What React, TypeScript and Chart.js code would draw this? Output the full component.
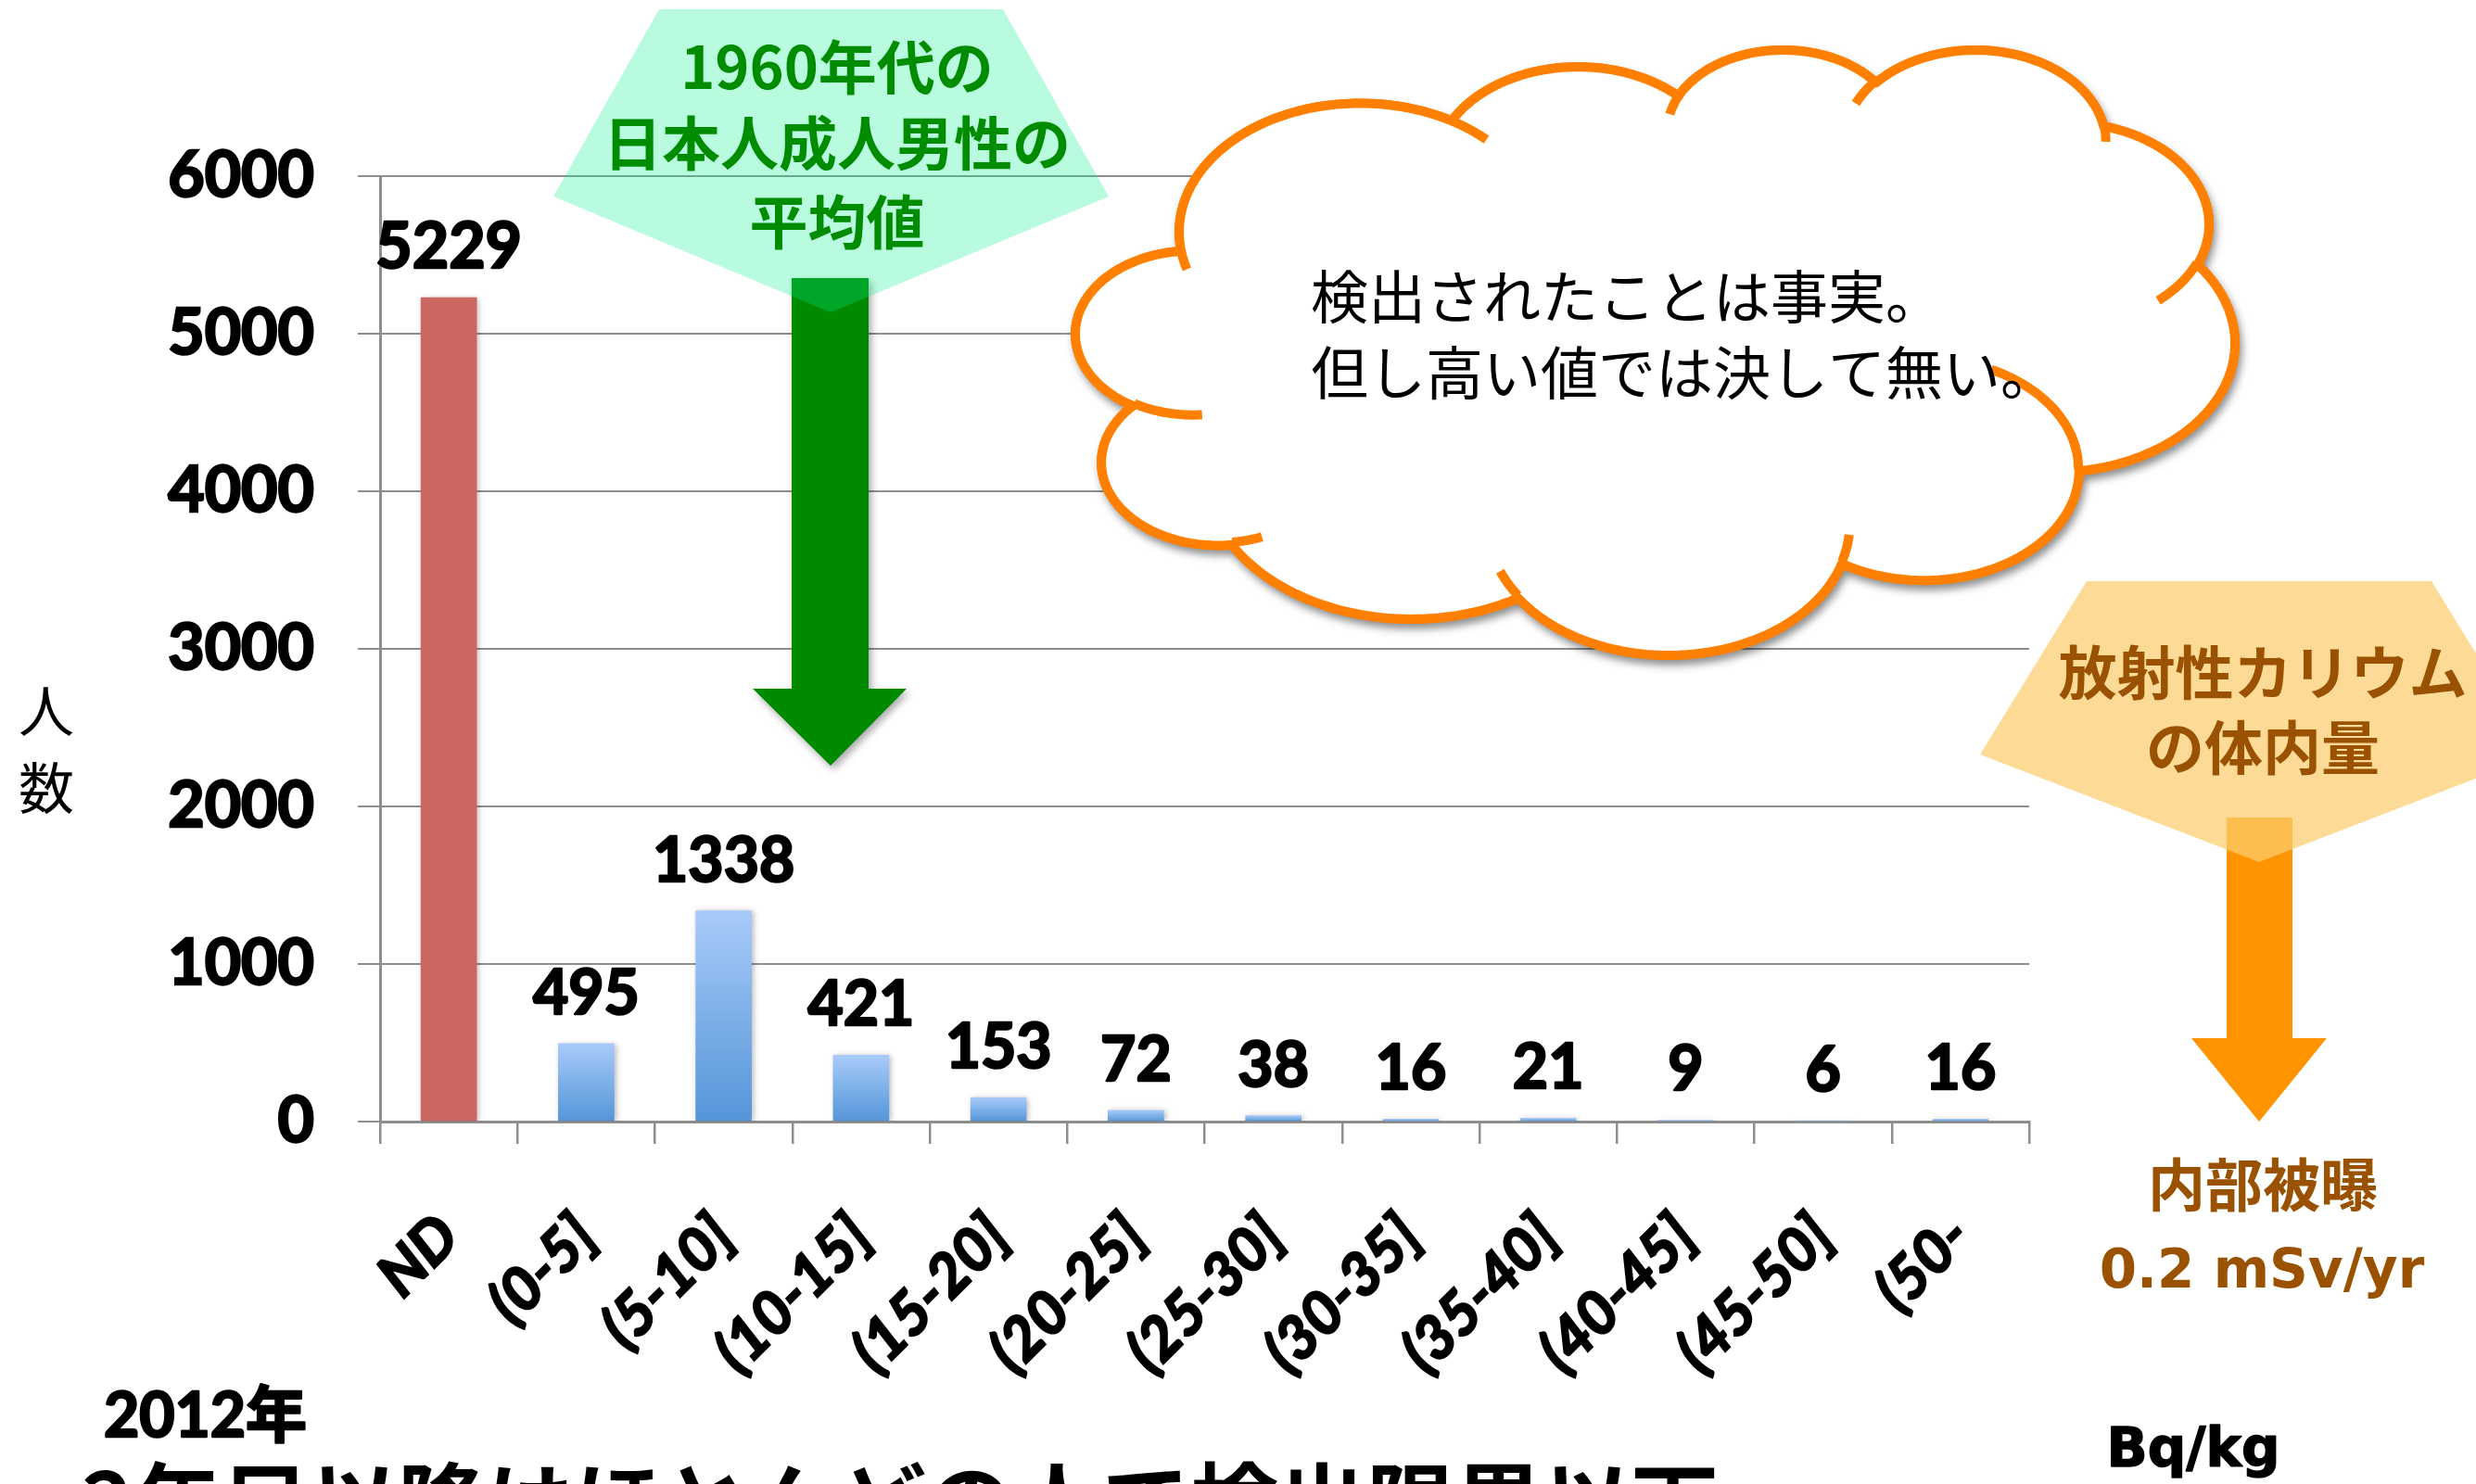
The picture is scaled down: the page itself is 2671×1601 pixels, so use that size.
import React, { useEffect, useRef } from "react";
import { Chart, registerables } from "chart.js";

Chart.register(...registerables);

// ---------- data ----------
const categories = ["ND", "(0-5]", "(5-10]", "(10-15]", "(15-20]", "(20-25]", "(25-30]", "(30-35]", "(35-40]", "(40-45]", "(45-50]", "(50-"];
const counts = [5229, 495, 1338, 421, 153, 72, 38, 16, 21, 9, 6, 16];
const yTickValues = [0, 1000, 2000, 3000, 4000, 5000, 6000];

// ---------- texts ----------
const yAxisTitle = ["人", "数"];
const greenNoteLines = ["1960年代の", "日本人成人男性の", "平均値"];
const cloudLines = ["検出されたことは事実。", "但し高い値では決して無い。"];
const potassiumLines = ["放射性カリウム", "の体内量"];
const exposureTitle = "内部被曝";
const exposureValue = "0.2 mSv/yr";
const unitLabel = "Bq/kg";
const yearLabel = "2012年";
const footerTitle = "2年目以降はほとんどの人で検出限界以下";

const W = 2671;
const H = 1601;
const LAT = "Lato, 'Noto Sans CJK JP', sans-serif";
const CJK = "'Noto Sans CJK JP', sans-serif";
const GRID = "#8e8e8e";

type Pt = [number, number];

function poly(c: CanvasRenderingContext2D, pts: Pt[]) {
  c.beginPath();
  pts.forEach(([x, y], i) => (i ? c.lineTo(x, y) : c.moveTo(x, y)));
  c.closePath();
}

function txt(
  c: CanvasRenderingContext2D,
  s: string,
  x: number,
  y: number,
  font: string,
  color: string,
  align: CanvasTextAlign = "center",
  baseline: CanvasTextBaseline = "middle",
  stroke = 0
) {
  c.font = font;
  c.fillStyle = color;
  c.textAlign = align;
  c.textBaseline = baseline;
  if (stroke > 0) {
    c.lineWidth = stroke;
    c.strokeStyle = color;
    c.lineJoin = "round";
    c.strokeText(s, x, y);
  }
  c.fillText(s, x, y);
}

// DrawingML "cloud" preset geometry (43200 units)
const CLOUD_START: Pt = [3900, 14370];
const CLOUD_ARCS = [
  [6753, 9190, -11429249, 7426832],
  [5333, 7267, -8646143, 5396714],
  [4365, 5945, -8748475, 5983381],
  [4857, 6595, -7859164, 7034504],
  [5333, 7273, -4722533, 6541615],
  [6775, 9220, -2776035, 7816140],
  [5785, 7867, 37501, 6842000],
  [6752, 9215, 1347096, 6910353],
  [7720, 10543, 3974558, 4542661],
  [4360, 5918, -16496525, 8804134],
  [4345, 5945, -14809710, 9151131],
];
const CLOUD_STUBS = [
  [4693, 26177, 4345, 5945, 5204520, 1585770],
  [6928, 34899, 4360, 5918, 4416628, 686848],
  [16478, 39090, 6752, 9215, 8257449, 844866],
  [28827, 34751, 6752, 9215, 387196, 959901],
  [34129, 22954, 5785, 7867, -4217541, 4255042],
  [41798, 15354, 5333, 7273, 1819082, 1665090],
  [38324, 5426, 4857, 6595, -824660, 891534],
  [29078, 3952, 4857, 6595, -8950887, 1091722],
  [22141, 4720, 4365, 5945, -9809656, 1061181],
  [14000, 5192, 6753, 9190, -4002417, 739161],
  [4127, 15789, 6753, 9190, 9459261, 711490],
];

function arcPts(out: Pt[], cur: Pt, wR: number, hR: number, st: number, sw: number): Pt {
  const r = (a: number) => ((a / 60000) * Math.PI) / 180;
  const param = (th: number) => {
    let d = Math.atan2(wR * Math.sin(th), hR * Math.cos(th)) - th;
    while (d > Math.PI) d -= 2 * Math.PI;
    while (d < -Math.PI) d += 2 * Math.PI;
    return th + d;
  };
  const ts = param(r(st));
  const cx = cur[0] - wR * Math.cos(ts);
  const cy = cur[1] - hR * Math.sin(ts);
  const n = 60;
  let last: Pt = cur;
  for (let i = 1; i <= n; i++) {
    const t = param(r(st) + (r(sw) * i) / n);
    last = [cx + wR * Math.cos(t), cy + hR * Math.sin(t)];
    out.push(last);
  }
  return last;
}

function cloudPaths(box: { l: number; t: number; r: number; b: number }) {
  const outline: Pt[] = [CLOUD_START];
  let cur: Pt = CLOUD_START;
  for (const a of CLOUD_ARCS) cur = arcPts(outline, cur, a[0], a[1], a[2], a[3]);
  const stubs: Pt[][] = CLOUD_STUBS.map((s) => {
    const p: Pt[] = [[s[0], s[1]]];
    arcPts(p, [s[0], s[1]], s[2], s[3], s[4], s[5]);
    return p;
  });
  let minX = Infinity, maxX = -Infinity, minY = Infinity, maxY = -Infinity;
  outline.forEach(([x, y]) => {
    minX = Math.min(minX, x); maxX = Math.max(maxX, x);
    minY = Math.min(minY, y); maxY = Math.max(maxY, y);
  });
  const sx = (box.r - box.l) / (maxX - minX);
  const sy = (box.b - box.t) / (maxY - minY);
  const map = (p: Pt): Pt => [box.l + (p[0] - minX) * sx, box.t + (p[1] - minY) * sy];
  return { outline: outline.map(map), stubs: stubs.map((s) => s.map(map)) };
}

const annotations = {
  id: "annotations",
  afterDraw(chart: any) {
    const c: CanvasRenderingContext2D = chart.ctx;
    c.save();

    // data labels
    const meta = chart.getDatasetMeta(0);
    meta.data.forEach((el: any, i: number) => {
      const { x, y } = el.getProps(["x", "y"], true);
      txt(c, String(counts[i]), x, y - 32, `bold ${i === 0 ? 68 : 66}px ${LAT}`, "#000", "center", "alphabetic", 2.5);
    });

    // y axis title (vertical)
    yAxisTitle.forEach((s, i) => txt(c, s, 50, 767 + i * 83, `60px ${CJK}`, "#000"));

    // green arrow
    c.save();
    c.shadowColor = "rgba(0,0,0,0.35)";
    c.shadowBlur = 8;
    c.shadowOffsetX = 3;
    c.shadowOffsetY = 4;
    poly(c, [[854, 300], [937, 300], [937, 743], [978, 743], [896, 826], [812, 743], [854, 743]]);
    c.fillStyle = "#008a00";
    c.fill();
    c.restore();

    // green pentagon callout
    poly(c, [[711, 10], [1082, 10], [1196, 212], [896, 337], [597, 212]]);
    c.fillStyle = "rgba(0,240,140,0.28)";
    c.fill();
    greenNoteLines.forEach((s, i) => txt(c, s, 903, [72, 154, 239][i], `bold 63px ${CJK}`, "#008c00"));

    // cloud
    const cloud = cloudPaths({ l: 1160, t: 54, r: 2411, b: 707 });
    const outlinePath = () => {
      c.beginPath();
      cloud.outline.forEach(([x, y], i) => (i ? c.lineTo(x, y) : c.moveTo(x, y)));
      c.closePath();
    };
    c.lineJoin = "round";
    c.lineWidth = 10;
    c.strokeStyle = "#ff7f00";
    c.save();
    c.shadowColor = "rgba(0,0,0,0.35)";
    c.shadowBlur = 10;
    c.shadowOffsetX = 3;
    c.shadowOffsetY = 6;
    outlinePath();
    c.fillStyle = "#fff";
    c.fill();
    c.stroke();
    c.restore();
    outlinePath();
    c.fillStyle = "#fff";
    c.fill();
    c.stroke();
    c.lineCap = "butt";
    cloud.stubs.forEach((s) => {
      c.beginPath();
      s.forEach(([x, y], i) => (i ? c.lineTo(x, y) : c.moveTo(x, y)));
      c.stroke();
    });
    cloudLines.forEach((s, i) => txt(c, s, 1414, [320, 402][i], `62px ${CJK}`, "#000", "left"));

    // orange arrow
    poly(c, [[2402, 882], [2473, 882], [2473, 1120], [2510, 1120], [2437, 1210], [2364, 1120], [2402, 1120]]);
    c.fillStyle = "#ff9300";
    c.fill();

    // orange pentagon callout
    poly(c, [[2251, 627], [2623, 627], [2738, 814], [2437, 930], [2136, 814]]);
    c.fillStyle = "rgba(252,205,110,0.72)";
    c.fill();
    potassiumLines.forEach((s, i) => txt(c, s, 2441, [725, 806][i], `bold 63px ${CJK}`, "#9a5200"));

    txt(c, exposureTitle, 2441, 1278, `bold 62px ${CJK}`, "#9a5200");
    txt(c, exposureValue, 2440, 1389, `bold 58px 'DejaVu Sans', sans-serif`, "#9a5200", "center", "alphabetic");
    txt(c, unitLabel, 2366, 1582, `bold 58px 'DejaVu Sans', sans-serif`, "#000", "center", "alphabetic", 1.5);

    txt(c, yearLabel, 112, 1550, `bold 66px ${LAT}`, "#000", "left", "alphabetic", 2.5);
    txt(c, footerTitle, 88, 1658, `bold 95px ${CJK}`, "#000", "left", "alphabetic");

    c.restore();
  },
};

const barShadow = {
  id: "barShadow",
  beforeDatasetsDraw(chart: any) {
    const c = chart.ctx;
    c.save();
    c.shadowColor = "rgba(0,0,0,0.28)";
    c.shadowBlur = 6;
    c.shadowOffsetX = 2;
    c.shadowOffsetY = 1;
  },
  afterDatasetsDraw(chart: any) {
    chart.ctx.restore();
  },
};

export default function App() {
  const ref = useRef<HTMLCanvasElement>(null);
  useEffect(() => {
    document.body.style.margin = "0";
    const canvas = ref.current;
    if (!canvas) return;
    const chart = new Chart(canvas, {
      type: "bar",
      data: {
        labels: categories,
        datasets: [
          {
            data: counts,
            barThickness: 60,
            backgroundColor: (ctx: any) => {
              if (ctx.dataIndex === 0) return "#cc6661";
              const ch = ctx.chart;
              if (!ch.chartArea) return "#7fb0ea";
              const y0 = ch.scales.y.getPixelForValue(0);
              const y1 = ch.scales.y.getPixelForValue(ctx.raw);
              const g = ch.ctx.createLinearGradient(0, y1, 0, y0);
              g.addColorStop(0, "#a8cbf9");
              g.addColorStop(1, "#5495d8");
              return g;
            },
            borderWidth: 0,
          },
        ],
      },
      options: {
        responsive: false,
        animation: false,
        devicePixelRatio: 1,
        layout: { padding: { top: 190, right: 482, bottom: 0, left: 0 } },
        plugins: { legend: { display: false }, tooltip: { enabled: false } },
        scales: {
          x: {
            offset: true,
            grid: { display: true, drawOnChartArea: false, drawTicks: true, tickLength: 24, color: GRID, lineWidth: 2.5, offset: true },
            border: { display: true, color: GRID, width: 3 },
            ticks: {
              autoSkip: false,
              minRotation: 45,
              maxRotation: 45,
              padding: 62,
              color: "#000",
              textStrokeColor: "#000",
              textStrokeWidth: 2.5,
              font: { family: LAT, size: 64, weight: "bold", style: "italic" },
            },
            afterFit: (s: any) => {
              s.height = 391;
            },
          },
          y: {
            min: 0,
            max: 6000,
            afterBuildTicks: (s: any) => {
              s.ticks = yTickValues.map((v) => ({ value: v }));
            },
            ticks: {
              padding: 47,
              color: "#000",
              textStrokeColor: "#000",
              textStrokeWidth: 2.5,
              font: { family: LAT, size: 68, weight: "bold" },
              callback: (v: any) => String(v),
            },
            grid: { color: GRID, lineWidth: 2, tickLength: 24, drawTicks: true },
            border: { display: true, color: GRID, width: 3 },
            afterFit: (s: any) => {
              s.width = 410;
            },
          },
        },
      } as any,
      plugins: [barShadow, annotations],
    });
    let alive = true;
    if ((document as any).fonts?.ready) {
      (document as any).fonts.ready.then(() => {
        if (alive) chart.update();
      });
    }
    return () => {
      alive = false;
      chart.destroy();
    };
  }, []);
  return (
    <div style={{ width: W, height: H, background: "#fff", overflow: "hidden" }}>
      <canvas ref={ref} width={W} height={H} style={{ display: "block", width: W, height: H }} />
    </div>
  );
}
